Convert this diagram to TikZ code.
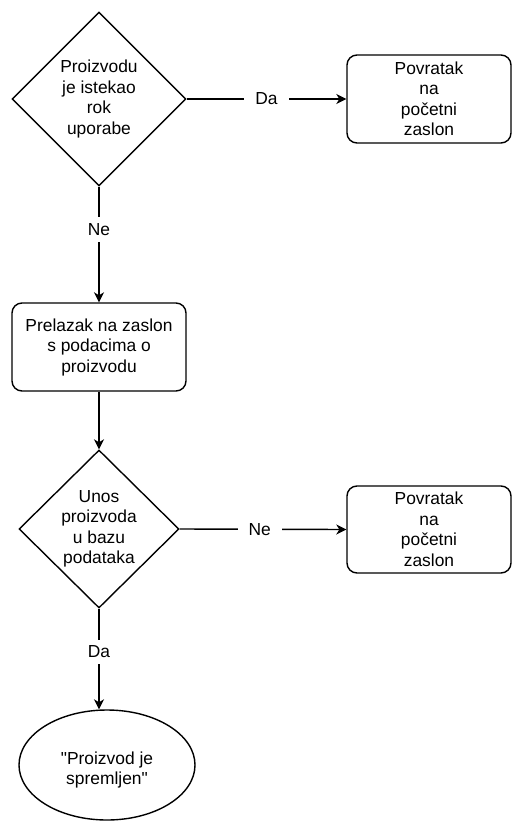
\documentclass[tikz,border=0pt]{standalone}
\usepackage{fontspec}
\setmainfont{Liberation Sans}[Ligatures=TeXOff]
\usetikzlibrary{shapes.geometric,arrows.meta}
\tikzset{
  fnt/.style={font=\fontsize{17.4}{20.5}\selectfont},
  base/.style={draw=black, line width=1.4pt, inner sep=0pt, align=center, fnt},
  rbox/.style={base, rectangle, rounded corners=10pt},
  dia/.style={draw=black, line width=1.4pt, diamond, inner sep=0pt},
  ell/.style={base, ellipse},
  txt/.style={inner sep=0pt, align=center, fnt},
  lbl/.style={fill=white, inner xsep=11pt, inner ysep=6pt, fnt},
  arr/.style={draw=black, line width=1.4pt, -{Stealth[length=10pt,width=10pt,inset=3pt]}}
}
\begin{document}
\begin{tikzpicture}[x=1pt,y=-1pt]
\useasboundingbox (0,0) rectangle (512,821);
\node[dia, minimum width=174pt, minimum height=174pt] (d1) at (99,99) {};
\node[txt] (t1) at (d1) {Proizvodu\\je istekao\\rok\\uporabe};
\node[rbox, minimum width=164pt, minimum height=88pt] (b1) at (429,99) {Povratak\\na\\početni\\zaslon};
\node[rbox, minimum width=174pt, minimum height=88pt] (b2) at (99,347) {Prelazak na zaslon\\s podacima o\\proizvodu};
\node[dia, minimum width=160pt, minimum height=158pt] (d2) at (99,529) {};
\node[txt] (t2) at (d2) {Unos\\proizvoda\\u bazu\\podataka};
\node[rbox, minimum width=164pt, minimum height=87pt] (b3) at (429,529.5) {Povratak\\na\\početni\\zaslon};
\node[ell, minimum width=176pt, minimum height=110pt] (e) at (107,765) {};
\node[txt] (t3) at (107,770) {"Proizvod je\\spremljen"};

\draw[arr] (d1.east) -- node[lbl, pos=0.5] (l1) {Da} (b1.west);
\draw[arr] (d1.south) -- node[lbl, pos=0.37] (l2) {Ne} (b2.north);
\draw[arr] (b2.south) -- (d2.north);
\draw[arr] (d2.east) -- node[lbl, pos=0.48] (l3) {Ne} (b3.west);
\draw[arr] (d2.south) -- node[lbl, pos=0.43] (l4) {Da} (d2.south |- e.north);
\end{tikzpicture}
\end{document}
